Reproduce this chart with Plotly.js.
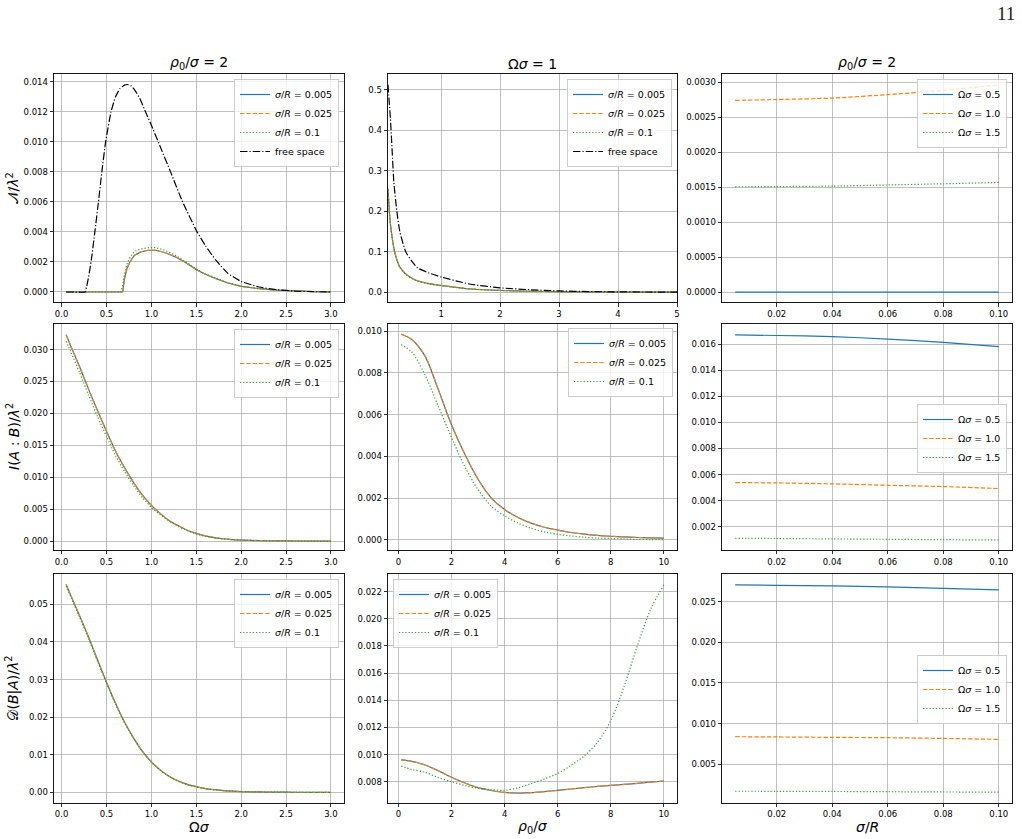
<!DOCTYPE html>
<html>
<head>
<meta charset="utf-8">
<script src="https://cdn.plot.ly/plotly-3.0.1.min.js"></script>
<style>html,body{margin:0;padding:0;background:#fff;}#chart{width:1022px;height:839px;}</style>
</head>
<body>
<div id="chart"></div>
<script>
// ---------------- DATA ----------------
// Row 1, col 1 : N/lambda^2 vs Omega*sigma  (rho0/sigma = 2)
const omegaFree = [0.05, 0.15, 0.26, 0.28, 0.30, 0.33, 0.37, 0.41, 0.45, 0.49, 0.55, 0.60, 0.65, 0.70, 0.73, 0.77, 0.82, 0.87, 0.92, 1.0, 1.09, 1.22, 1.34, 1.5, 1.6, 1.72, 1.85, 2.0, 2.2, 2.4, 2.6, 2.8, 3.0];
const nFreeOmega = [0, 0, 0, 0.0004, 0.0010, 0.0021, 0.0040, 0.0060, 0.0081, 0.0100, 0.0120, 0.0130, 0.01355, 0.01378, 0.01382, 0.01375, 0.0134, 0.0129, 0.0122, 0.0111, 0.0098, 0.0079, 0.0061, 0.0041, 0.0031, 0.0021, 0.00125, 0.0007, 0.00033, 0.00015, 0.00006, 0.00002, 0.00001];
const omegaN = [0.05, 0.3, 0.6, 0.66, 0.68, 0.70, 0.73, 0.76, 0.81, 0.88, 0.97, 1.05, 1.16, 1.27, 1.38, 1.5, 1.6, 1.72, 1.85, 2.0, 2.2, 2.4, 2.6, 2.8, 3.0];
const nOmegaBlue   = [0, 0, 0, 0, 0, 0.0009, 0.0016, 0.0020, 0.00244, 0.00267, 0.00278, 0.00278, 0.0026, 0.00233, 0.00196, 0.00149, 0.00118, 0.00089, 0.0006, 0.00038, 0.00022, 0.00012, 0.00006, 0.00003, 0.00001];
const nOmegaOrange = [0, 0, 0, 0, 0, 0.0009, 0.0016, 0.0020, 0.00245, 0.00268, 0.00279, 0.00279, 0.00261, 0.00234, 0.00197, 0.0015, 0.00118, 0.00089, 0.0006, 0.00038, 0.00022, 0.00012, 0.00006, 0.00003, 0.00001];
const nOmegaGreen  = [0, 0, 0, 0, 0.0004, 0.0012, 0.0019, 0.0023, 0.0027, 0.00287, 0.00295, 0.00296, 0.00275, 0.00243, 0.00202, 0.00153, 0.0012, 0.0009, 0.00061, 0.00039, 0.00022, 0.00012, 0.00006, 0.00003, 0.00001];

// Row 1, col 2 : N/lambda^2 vs rho0/sigma  (Omega*sigma = 1)
const rhoN = [0.1, 0.12, 0.14, 0.17, 0.2, 0.25, 0.3, 0.4, 0.5, 0.6, 0.8, 1.0, 1.25, 1.5, 2.0, 2.5, 3.0, 3.5, 4.0, 4.5, 5.0];
const nFreeRho   = [0.512, 0.47, 0.43, 0.35, 0.27, 0.20, 0.15, 0.100, 0.077, 0.060, 0.047, 0.0375, 0.028, 0.0195, 0.0107, 0.006, 0.003, 0.0014, 0.0006, 0.0003, 0.0001];
const nRhoBlue   = [0.255, 0.205, 0.170, 0.135, 0.108, 0.080, 0.062, 0.045, 0.035, 0.028, 0.021, 0.0165, 0.012, 0.0078, 0.0042, 0.0022, 0.0011, 0.0006, 0.0003, 0.00015, 0.0001];
const nRhoOrange = [0.255, 0.205, 0.170, 0.135, 0.108, 0.080, 0.062, 0.045, 0.035, 0.028, 0.021, 0.0165, 0.012, 0.0078, 0.0042, 0.0022, 0.0011, 0.0006, 0.0003, 0.00015, 0.0001];
const nRhoGreen  = [0.254, 0.204, 0.169, 0.134, 0.107, 0.079, 0.061, 0.044, 0.034, 0.027, 0.020, 0.0160, 0.0115, 0.0075, 0.0040, 0.0021, 0.0010, 0.0005, 0.0002, 0.0001, 0.0001];

// Column 3 : vs sigma/R  (rho0/sigma = 2)
const sigmaR = [0.005, 0.02, 0.04, 0.06, 0.08, 0.1];
const nSigBlue   = [0, 0, 0, 0, 0, 0];
const nSigOrange = [0.002738, 0.00275, 0.00277, 0.00282, 0.00288, 0.00296];
const nSigGreen  = [0.001504, 0.001507, 0.001514, 0.00153, 0.001547, 0.001566];
const iSigBlue   = [0.01671, 0.01666, 0.01658, 0.01638, 0.01613, 0.0158];
const iSigOrange = [0.00539, 0.00536, 0.00529, 0.00518, 0.00508, 0.00493];
const iSigGreen  = [0.00112, 0.00110, 0.00107, 0.00104, 0.00101, 0.00099];
const dSigBlue   = [0.02704, 0.0270, 0.02692, 0.0268, 0.02663, 0.02643];
const dSigOrange = [0.00839, 0.00836, 0.00831, 0.00827, 0.00818, 0.00806];
const dSigGreen  = [0.00169, 0.00168, 0.00166, 0.00163, 0.0016, 0.00157];

// Rows 2-3, col 1 : vs Omega*sigma
const omegaGrid = [0.05, 0.1, 0.2, 0.3, 0.4, 0.5, 0.6, 0.7, 0.8, 0.9, 1.0, 1.1, 1.2, 1.3, 1.4, 1.5, 1.6, 1.7, 1.8, 1.9, 2.0, 2.2, 2.4, 2.6, 2.8, 3.0];
const iOmegaBlue   = [0.0323, 0.0306, 0.0273, 0.0238, 0.0204, 0.0172, 0.0141, 0.0115, 0.0092, 0.0072, 0.0056, 0.0043, 0.0032, 0.0024, 0.0017, 0.0012, 0.0008, 0.00055, 0.00036, 0.00024, 0.00016, 0.00007, 0.00003, 0.00001, 0, 0];
const iOmegaOrange = [0.0323, 0.0306, 0.0273, 0.0238, 0.0204, 0.0172, 0.0141, 0.0115, 0.0092, 0.0072, 0.0056, 0.0043, 0.0032, 0.0024, 0.0017, 0.0012, 0.0008, 0.00055, 0.00036, 0.00024, 0.00016, 0.00007, 0.00003, 0.00001, 0, 0];
const iOmegaGreen  = [0.0313, 0.0297, 0.0264, 0.0229, 0.0195, 0.0164, 0.0134, 0.0109, 0.0087, 0.0068, 0.0053, 0.0041, 0.0031, 0.0023, 0.0016, 0.0011, 0.00075, 0.0005, 0.00033, 0.00022, 0.00014, 0.00006, 0.00002, 0.00001, 0, 0];
const dOmegaBlue   = [0.0553, 0.0525, 0.0470, 0.0413, 0.0352, 0.0293, 0.0237, 0.0187, 0.0145, 0.0109, 0.0081, 0.0059, 0.0042, 0.0030, 0.0021, 0.0015, 0.0010, 0.0007, 0.00045, 0.0003, 0.0002, 0.0001, 0.00004, 0.00002, 0.00001, 0];
const dOmegaOrange = [0.0553, 0.0525, 0.0470, 0.0413, 0.0352, 0.0293, 0.0237, 0.0187, 0.0145, 0.0109, 0.0081, 0.0059, 0.0042, 0.0030, 0.0021, 0.0015, 0.0010, 0.0007, 0.00045, 0.0003, 0.0002, 0.0001, 0.00004, 0.00002, 0.00001, 0];
const dOmegaGreen  = [0.0549, 0.0521, 0.0466, 0.0409, 0.0349, 0.0290, 0.0235, 0.0185, 0.0144, 0.0108, 0.0080, 0.0058, 0.0042, 0.0029, 0.0020, 0.0014, 0.0010, 0.0007, 0.00045, 0.0003, 0.0002, 0.0001, 0.00004, 0.00002, 0.00001, 0];

// Rows 2-3, col 2 : vs rho0/sigma
const rhoGrid = [0.1, 0.5, 1.0, 1.5, 2.0, 2.5, 3.0, 3.5, 4.0, 4.5, 5.0, 5.5, 6.0, 6.5, 7.0, 7.5, 8.0, 8.5, 9.0, 9.5, 10.0];
const iRhoBlue   = [0.00985, 0.0096, 0.0088, 0.0072, 0.0055, 0.0041, 0.0029, 0.0020, 0.00145, 0.00107, 0.0008, 0.0006, 0.00046, 0.00035, 0.00027, 0.00021, 0.00017, 0.00014, 0.00011, 0.00009, 0.00008];
const iRhoOrange = [0.00985, 0.0096, 0.0088, 0.0072, 0.0055, 0.0041, 0.0029, 0.0020, 0.00145, 0.00107, 0.0008, 0.0006, 0.00046, 0.00035, 0.00027, 0.00021, 0.00017, 0.00014, 0.00011, 0.00009, 0.00008];
const iRhoGreen  = [0.00935, 0.0090, 0.0079, 0.0064, 0.0049, 0.0035, 0.0024, 0.0016, 0.00115, 0.0008, 0.00055, 0.00038, 0.00026, 0.00018, 0.00012, 0.00008, 0.00006, 0.00004, 0.00002, 0.00001, 0.0];
const dRhoBlue   = [0.0096, 0.0095, 0.00923, 0.0088, 0.00832, 0.0079, 0.00756, 0.00735, 0.00721, 0.00716, 0.00719, 0.00727, 0.00736, 0.00746, 0.00756, 0.00765, 0.00773, 0.0078, 0.00788, 0.00797, 0.00805];
const dRhoOrange = [0.0096, 0.0095, 0.00923, 0.0088, 0.00832, 0.0079, 0.00756, 0.00735, 0.00721, 0.00716, 0.00719, 0.00727, 0.00736, 0.00746, 0.00756, 0.00765, 0.00773, 0.0078, 0.00788, 0.00797, 0.00805];
const dRhoGreen  = [0.00915, 0.0089, 0.00869, 0.0083, 0.0080, 0.00772, 0.00751, 0.00741, 0.00736, 0.00755, 0.00785, 0.0082, 0.0086, 0.0092, 0.0099, 0.0109, 0.0125, 0.0150, 0.0180, 0.0207, 0.0225];

// Labels
const sigmaRLabels = ['0.005', '0.025', '0.1'];
const omegaLabels = ['0.5', '1.0', '1.5'];
const freeSpaceLabel = 'free space';
const colTitles = ['<i>ρ</i><sub>0</sub>/<i>σ</i> = 2', 'Ω<i>σ</i> = 1', '<i>ρ</i><sub>0</sub>/<i>σ</i> = 2'];
const xLabels = ['Ω<i>σ</i>', '<i>ρ</i><sub>0</sub>/<i>σ</i>', '<i>σ</i>/<i>R</i>'];
const yLabels = ['𝒩/<i>λ</i><sup>2</sup>', '<i>I</i>(<i>A</i> : <i>B</i>)/<i>λ</i><sup>2</sup>', '𝒟(<i>B</i>|<i>A</i>)/<i>λ</i><sup>2</sup>'];
const pageNumber = '11';

// ---------------- LAYOUT HELPERS ----------------
const W = 1022, H = 839;
const FONT = 'DejaVu Sans, Liberation Sans, sans-serif';
const colPx = [[54, 344], [388, 677], [722, 1012]];
const rowPx = [[74.3, 302.5], [324, 550], [574.3, 802.7]];
const xDom = colPx.map(c => [c[0] / W, c[1] / W]);
const yDom = rowPx.map(r => [1 - r[1] / H, 1 - r[0] / H]);

const STY = {
  blue:   {color: '#1f77b4', dash: 'solid'},
  orange: {color: '#ff7f0e', dash: '4.4px,1.9px'},
  green:  {color: '#2ca02c', dash: '1.2px,2px'},
  black:  {color: '#000000', dash: '7.5px,2px,1.2px,2px'}
};

function axId(p) { return p === 0 ? '' : String(p + 1); }
function legId(p) { return p === 0 ? 'legend' : 'legend' + (p + 1); }

const traces = [];
function addLine(p, x, y, sty, name, shape, smooth) {
  traces.push({
    type: 'scatter', mode: 'lines', x: x, y: y, name: name,
    xaxis: 'x' + axId(p), yaxis: 'y' + axId(p),
    legend: legId(p), showlegend: true,
    line: {color: STY[sty].color, dash: STY[sty].dash, width: 1.2, shape: shape || 'linear', smoothing: smooth || 0.6},
    hoverinfo: 'skip'
  });
}
function srName(i) { return '<i>σ</i>/<i>R</i> = ' + sigmaRLabels[i]; }
function omName(i) { return 'Ω<i>σ</i> = ' + omegaLabels[i]; }

// Panel 0 (row1,col1)
addLine(0, omegaN, nOmegaBlue, 'blue', srName(0));
addLine(0, omegaN, nOmegaOrange, 'orange', srName(1));
addLine(0, omegaN, nOmegaGreen, 'green', srName(2));
addLine(0, omegaFree, nFreeOmega, 'black', freeSpaceLabel, 'spline', 0.4);
// Panel 1 (row1,col2)
addLine(1, rhoN, nRhoBlue, 'blue', srName(0), 'spline');
addLine(1, rhoN, nRhoOrange, 'orange', srName(1), 'spline');
addLine(1, rhoN, nRhoGreen, 'green', srName(2), 'spline');
addLine(1, rhoN, nFreeRho, 'black', freeSpaceLabel, 'spline');
// Panel 2 (row1,col3)
addLine(2, sigmaR, nSigBlue, 'blue', omName(0), 'spline');
addLine(2, sigmaR, nSigOrange, 'orange', omName(1), 'spline');
addLine(2, sigmaR, nSigGreen, 'green', omName(2), 'spline');
// Panel 3 (row2,col1)
addLine(3, omegaGrid, iOmegaBlue, 'blue', srName(0), 'spline');
addLine(3, omegaGrid, iOmegaOrange, 'orange', srName(1), 'spline');
addLine(3, omegaGrid, iOmegaGreen, 'green', srName(2), 'spline');
// Panel 4 (row2,col2)
addLine(4, rhoGrid, iRhoBlue, 'blue', srName(0), 'spline', 0.9);
addLine(4, rhoGrid, iRhoOrange, 'orange', srName(1), 'spline', 0.9);
addLine(4, rhoGrid, iRhoGreen, 'green', srName(2), 'spline', 0.9);
// Panel 5 (row2,col3)
addLine(5, sigmaR, iSigBlue, 'blue', omName(0), 'spline');
addLine(5, sigmaR, iSigOrange, 'orange', omName(1), 'spline');
addLine(5, sigmaR, iSigGreen, 'green', omName(2), 'spline');
// Panel 6 (row3,col1)
addLine(6, omegaGrid, dOmegaBlue, 'blue', srName(0), 'spline');
addLine(6, omegaGrid, dOmegaOrange, 'orange', srName(1), 'spline');
addLine(6, omegaGrid, dOmegaGreen, 'green', srName(2), 'spline');
// Panel 7 (row3,col2)
addLine(7, rhoGrid, dRhoBlue, 'blue', srName(0), 'spline', 0.9);
addLine(7, rhoGrid, dRhoOrange, 'orange', srName(1), 'spline', 0.9);
addLine(7, rhoGrid, dRhoGreen, 'green', srName(2), 'spline', 0.9);
// Panel 8 (row3,col3)
addLine(8, sigmaR, dSigBlue, 'blue', omName(0), 'spline');
addLine(8, sigmaR, dSigOrange, 'orange', omName(1), 'spline');
addLine(8, sigmaR, dSigGreen, 'green', omName(2), 'spline');

// axis settings per panel: [xrange, xtick0, xdtick, xfmt, yrange, ytick0, ydtick, yfmt]
const axCfg = [
  [[-0.085, 3.145], 0, 0.5, '.1f', [-0.0007, 0.0145], 0, 0.002, '.3f'],
  [[0.1, 5.0], 1, 1, 'd', [-0.0256, 0.538], 0, 0.1, '.1f'],
  [[0.00025, 0.10475], 0.02, 0.02, '.2f', [-0.000148, 0.00311], 0, 0.0005, '.4f'],
  [[-0.085, 3.145], 0, 0.5, '.1f', [-0.0014, 0.0340], 0, 0.005, '.3f'],
  [[-0.395, 10.495], 0, 2, 'd', [-0.00049, 0.01034], 0, 0.002, '.3f'],
  [[0.00025, 0.10475], 0.02, 0.02, '.2f', [0.00022, 0.01754], 0.002, 0.002, '.3f'],
  [[-0.085, 3.145], 0, 0.5, '.1f', [-0.00276, 0.058], 0, 0.01, '.2f'],
  [[-0.395, 10.495], 0, 2, 'd', [0.00645, 0.02328], 0.008, 0.002, '.3f'],
  [[0.00025, 0.10475], 0.02, 0.02, '.2f', [0.00028, 0.02835], 0.005, 0.005, '.3f']
];

function baseAxis() {
  return {
    showline: true, mirror: true, linecolor: '#000', linewidth: 0.9,
    ticks: 'outside', ticklen: 3.5, tickwidth: 0.8, tickcolor: '#000',
    showgrid: true, gridcolor: '#b0b0b0', gridwidth: 0.8, zeroline: false,
    tickfont: {family: FONT, size: 8.5, color: '#000'},
    fixedrange: true, automargin: false, tickmode: 'linear'
  };
}

const layout = {
  width: W, height: H, autosize: false,
  margin: {l: 0, r: 0, t: 0, b: 0, pad: 0},
  paper_bgcolor: '#ffffff', plot_bgcolor: '#ffffff',
  font: {family: FONT, color: '#000'},
  annotations: [], shapes: []
};

for (let p = 0; p < 9; p++) {
  const r = Math.floor(p / 3), c = p % 3;
  const cfg = axCfg[p];
  const xa = baseAxis(), ya = baseAxis();
  xa.domain = xDom[c]; xa.range = cfg[0]; xa.tick0 = cfg[1]; xa.dtick = cfg[2]; xa.tickformat = cfg[3];
  xa.anchor = 'y' + axId(p);
  ya.domain = yDom[r]; ya.range = cfg[4]; ya.tick0 = cfg[5]; ya.dtick = cfg[6]; ya.tickformat = cfg[7];
  ya.anchor = 'x' + axId(p);
  layout['xaxis' + axId(p)] = xa;
  layout['yaxis' + axId(p)] = ya;
}

// legends: [xpx, ypx, xanchor, yanchor]
const legPos = [
  [339, 79, 'right', 'top'], [672, 79, 'right', 'top'], [1007, 79, 'right', 'top'],
  [339, 329, 'right', 'top'], [673, 328, 'right', 'top'], [1007, 438.5, 'right', 'middle'],
  [339, 579, 'right', 'top'], [393, 579, 'left', 'top'], [1007, 689.5, 'right', 'middle']
];
legPos.forEach((lp, p) => {
  layout[legId(p)] = {
    x: lp[0] / W, y: 1 - lp[1] / H, xanchor: lp[2], yanchor: lp[3],
    xref: 'paper', yref: 'paper',
    bgcolor: 'rgba(255,255,255,0.8)', bordercolor: '#cccccc', borderwidth: 1,
    font: {family: FONT, size: 9.5, color: '#000'},
    itemwidth: 30, tracegroupgap: 0, traceorder: 'normal'
  };
});

// column titles and axis labels
for (let c = 0; c < 3; c++) {
  layout.annotations.push({
    text: colTitles[c], xref: 'paper', yref: 'paper',
    x: (xDom[c][0] + xDom[c][1]) / 2, y: yDom[0][1], xanchor: 'center', yanchor: 'bottom',
    yshift: 0, showarrow: false, font: {family: FONT, size: 14, color: '#000'}
  });
  layout.annotations.push({
    text: xLabels[c], xref: 'paper', yref: 'paper',
    x: (xDom[c][0] + xDom[c][1]) / 2, y: 1 - 827 / H, xanchor: 'center', yanchor: 'middle',
    showarrow: false, font: {family: FONT, size: 14, color: '#000'}
  });
}
for (let r = 0; r < 3; r++) {
  layout.annotations.push({
    text: yLabels[r], xref: 'paper', yref: 'paper',
    x: 13 / W, y: (yDom[r][0] + yDom[r][1]) / 2, xanchor: 'center', yanchor: 'middle',
    textangle: -90, showarrow: false, font: {family: FONT, size: 14, color: '#000'}
  });
}
layout.annotations.push({
  text: pageNumber, xref: 'paper', yref: 'paper', x: 1006 / W, y: 1 - 13.5 / H,
  xanchor: 'center', yanchor: 'middle', showarrow: false,
  font: {family: 'Liberation Serif, DejaVu Serif, serif', size: 19, color: '#222'}
});

Plotly.newPlot('chart', traces, layout, {staticPlot: true, displayModeBar: false});
</script>
</body>
</html>
